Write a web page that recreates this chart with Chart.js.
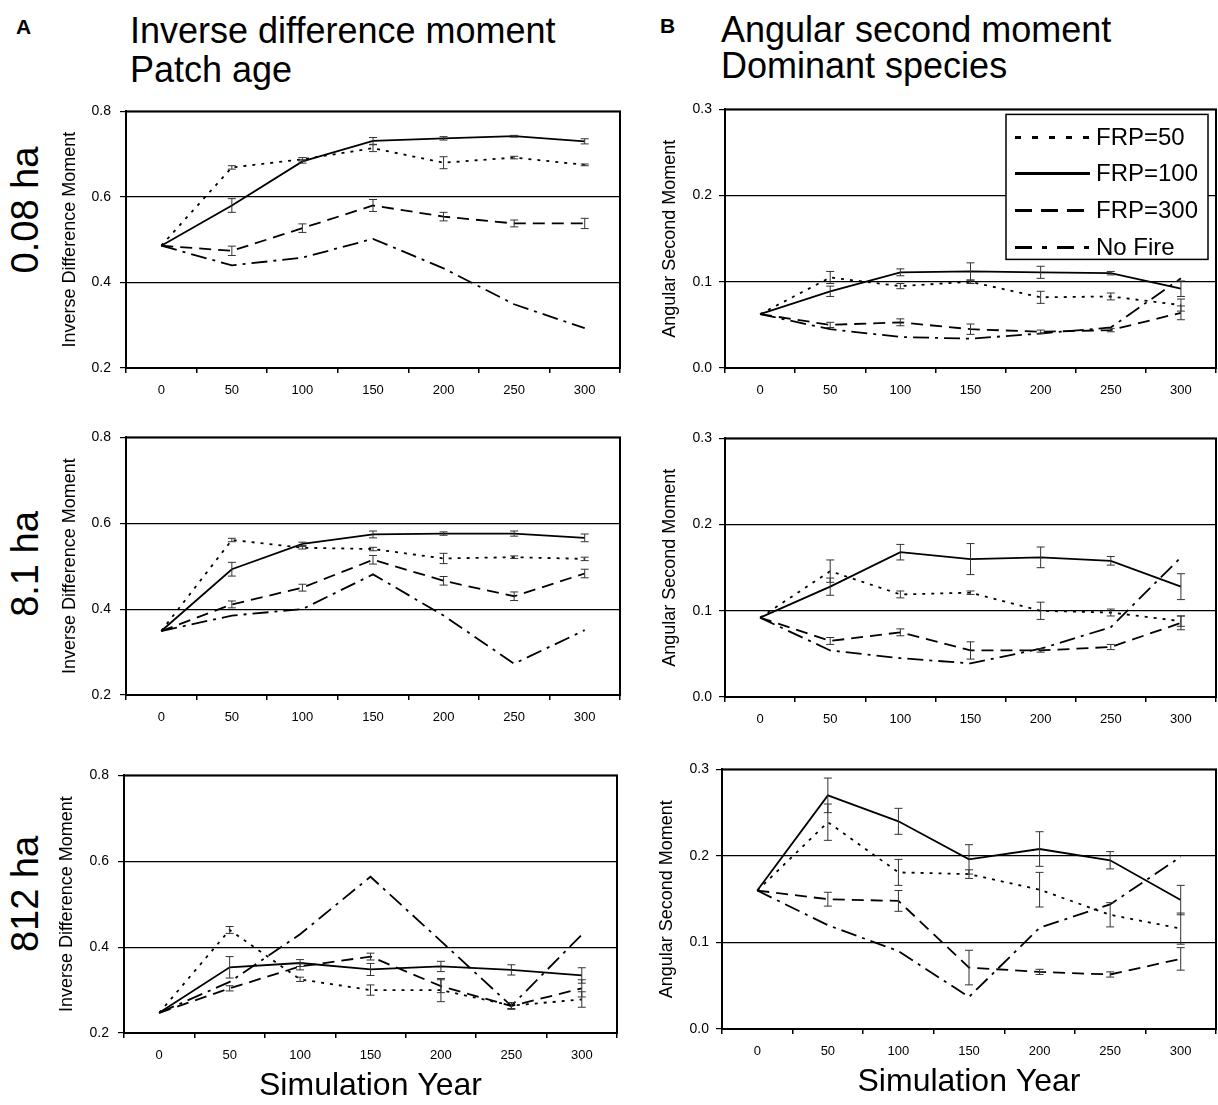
<!DOCTYPE html>
<html>
<head>
<meta charset="utf-8">
<script src="https://cdn.jsdelivr.net/npm/chart.js@4.4.0/dist/chart.umd.min.js"></script>
<style>
  body { margin: 0; width: 1218px; height: 1105px; background: #fff; position: relative; overflow: hidden;
         font-family: "Liberation Sans", Arial, sans-serif; color: #000; }
  .txt { position: absolute; white-space: nowrap; line-height: 1; }
  .row { position: absolute; white-space: nowrap; line-height: 1; font-size: 38px;
         transform: translate(-50%, -50%) rotate(-90deg); }
  canvas { position: absolute; }
</style>
</head>
<body>
<div class="txt" style="left:16px;top:16px;font-size:21px;font-weight:bold">A</div>
<div class="txt" style="left:130px;top:13px;font-size:36px">Inverse difference moment</div>
<div class="txt" style="left:130px;top:52px;font-size:36px">Patch age</div>
<div class="txt" style="left:660px;top:15px;font-size:21px;font-weight:bold">B</div>
<div class="txt" style="left:721px;top:12px;font-size:36px">Angular second moment</div>
<div class="txt" style="left:721px;top:48px;font-size:36px">Dominant species</div>

<div class="row" style="left:25px;top:210px">0.08 ha</div>
<div class="row" style="left:25px;top:564px">8.1 ha</div>
<div class="row" style="left:25px;top:894px">812 ha</div>

<canvas id="idm008"></canvas>
<canvas id="asm008"></canvas>
<canvas id="idm81"></canvas>
<canvas id="asm81"></canvas>
<canvas id="idm812"></canvas>
<canvas id="asm812"></canvas>

<script>
Chart.defaults.font.family = "'Liberation Sans', Arial, sans-serif";
Chart.defaults.color = "#000";

// --- data ---
const years = ["0", "50", "100", "150", "200", "250", "300"];
const seriesNames = ["FRP=50", "FRP=100", "FRP=300", "No Fire"];
const idmTicks = [0.2, 0.4, 0.6, 0.8];
const asmTicks = [0.0, 0.1, 0.2, 0.3];

// Inverse difference moment, 0.08 ha
const idm008Frp50 = [0.486, 0.669, 0.688, 0.714, 0.680, 0.692, 0.675];
const idm008Frp100 = [0.486, 0.580, 0.683, 0.731, 0.737, 0.742, 0.730];
const idm008Frp300 = [0.486, 0.474, 0.527, 0.580, 0.554, 0.538, 0.538];
const idm008NoFire = [0.486, 0.440, 0.458, 0.502, 0.433, 0.349, 0.293];
const idm008Err50 = [0, 0.004, 0.004, 0.008, 0.014, 0.003, 0.002];
const idm008Err100 = [0, 0.016, 0.004, 0.008, 0.004, 0.002, 0.006];
const idm008Err300 = [0, 0.011, 0.010, 0.014, 0.010, 0.008, 0.012];

// Angular second moment, 0.08 ha
const asm008Frp50 = [0.0625, 0.105, 0.095, 0.100, 0.082, 0.083, 0.073];
const asm008Frp100 = [0.0625, 0.089, 0.111, 0.112, 0.111, 0.110, 0.092];
const asm008Frp300 = [0.0625, 0.050, 0.053, 0.045, 0.042, 0.044, 0.064];
const asm008NoFire = [0.0625, 0.045, 0.036, 0.034, 0.040, 0.047, 0.104];
const asm008Err50 = [0, 0.007, 0.003, 0.002, 0.007, 0.004, 0.007];
const asm008Err100 = [0, 0.006, 0.004, 0.010, 0.007, 0.002, 0.009];
const asm008Err300 = [0, 0.003, 0.004, 0.006, 0.002, 0.002, 0.008];

// Inverse difference moment, 8.1 ha
const idm81Frp50 = [0.349, 0.561, 0.543, 0.540, 0.518, 0.521, 0.517];
const idm81Frp100 = [0.349, 0.493, 0.552, 0.574, 0.576, 0.576, 0.566];
const idm81Frp300 = [0.349, 0.411, 0.450, 0.515, 0.466, 0.430, 0.483];
const idm81NoFire = [0.349, 0.385, 0.400, 0.481, 0.385, 0.273, 0.351];
const idm81Err50 = [0, 0.004, 0.003, 0.004, 0.012, 0.003, 0.004];
const idm81Err100 = [0, 0.016, 0.004, 0.008, 0.004, 0.006, 0.009];
const idm81Err300 = [0, 0.008, 0.008, 0.010, 0.010, 0.010, 0.010];

// Angular second moment, 8.1 ha
const asm81Frp50 = [0.092, 0.146, 0.119, 0.121, 0.100, 0.098, 0.088];
const asm81Frp100 = [0.092, 0.128, 0.168, 0.160, 0.162, 0.158, 0.128];
const asm81Frp300 = [0.092, 0.065, 0.075, 0.054, 0.054, 0.058, 0.086];
const asm81NoFire = [0.092, 0.054, 0.045, 0.039, 0.056, 0.081, 0.162];
const asm81Err50 = [0, 0.013, 0.004, 0.002, 0.010, 0.004, 0.006];
const asm81Err100 = [0, 0.010, 0.009, 0.018, 0.012, 0.005, 0.015];
const asm81Err300 = [0, 0.004, 0.004, 0.010, 0.002, 0.003, 0.008];

// Inverse difference moment, 812 ha
const idm812Frp50 = [0.247, 0.440, 0.325, 0.300, 0.300, 0.264, 0.278];
const idm812Frp100 = [0.247, 0.353, 0.363, 0.348, 0.355, 0.347, 0.334];
const idm812Frp300 = [0.247, 0.304, 0.355, 0.378, 0.309, 0.263, 0.304];
const idm812NoFire = [0.247, 0.319, 0.430, 0.564, 0.414, 0.263, 0.429];
const idm812Err50 = [0, 0.008, 0.005, 0.012, 0.027, 0.007, 0.018];
const idm812Err100 = [0, 0.025, 0.008, 0.014, 0.012, 0.012, 0.018];
const idm812Err300 = [0, 0.006, 0.008, 0.008, 0.015, 0.008, 0.020];

// Angular second moment, 812 ha
const asm812Frp50 = [0.160, 0.239, 0.181, 0.179, 0.161, 0.132, 0.116];
const asm812Frp100 = [0.160, 0.270, 0.240, 0.196, 0.208, 0.195, 0.149];
const asm812Frp300 = [0.160, 0.150, 0.148, 0.071, 0.066, 0.063, 0.081];
const asm812NoFire = [0.160, 0.120, 0.090, 0.037, 0.117, 0.144, 0.199];
const asm812Err50 = [0, 0.021, 0.015, 0.005, 0.020, 0.014, 0.018];
const asm812Err100 = [0, 0.020, 0.015, 0.017, 0.020, 0.010, 0.017];
const asm812Err300 = [0, 0.008, 0.012, 0.020, 0.003, 0.003, 0.013];

// --- styles ---
const lineDashes = [[3, 6], [], [12, 7], [16, 6, 3, 6]];
const legendDashes = [[6, 11], [], [17, 9], [17, 10, 5, 10]];
const Y_W = 80;      // largeur réservée à l'axe y
const PAD_TOP = 10;

// cadre autour de la zone de tracé
const plotBox = {
  id: "plotBox",
  beforeDatasetsDraw(chart) {
    const { ctx, chartArea: a } = chart;
    ctx.save();
    ctx.strokeStyle = "#000";
    ctx.lineWidth = 2;
    ctx.strokeRect(a.left, a.top, a.right - a.left, a.bottom - a.top);
    ctx.restore();
  },
};

// barres d'erreur verticales
const errorBars = {
  id: "errorBars",
  afterDatasetsDraw(chart) {
    const ctx = chart.ctx;
    const y = chart.scales.y;
    chart.data.datasets.forEach((ds, i) => {
      if (!ds.errors) return;
      chart.getDatasetMeta(i).data.forEach((pt, j) => {
        const e = ds.errors[j];
        if (!e) return;
        const top = y.getPixelForValue(ds.data[j] + e);
        const bot = y.getPixelForValue(ds.data[j] - e);
        ctx.save();
        ctx.strokeStyle = "#333";
        ctx.lineWidth = 1;
        ctx.setLineDash([]);
        ctx.beginPath();
        ctx.moveTo(pt.x, top); ctx.lineTo(pt.x, bot);
        ctx.moveTo(pt.x - 4, top); ctx.lineTo(pt.x + 4, top);
        ctx.moveTo(pt.x - 4, bot); ctx.lineTo(pt.x + 4, bot);
        ctx.stroke();
        ctx.restore();
      });
    });
  },
};

// légende encadrée dans le coin haut droit
const boxLegend = {
  id: "boxLegend",
  afterDraw(chart) {
    const { ctx, chartArea: a } = chart;
    const w = 202, h = 145;
    const x0 = a.right - 8 - w, y0 = a.top + 5;
    ctx.save();
    ctx.fillStyle = "#fff";
    ctx.fillRect(x0, y0, w, h);
    ctx.strokeStyle = "#000";
    ctx.lineWidth = 1.5;
    ctx.strokeRect(x0, y0, w, h);
    ctx.font = "24px 'Liberation Sans', Arial, sans-serif";
    ctx.textBaseline = "middle";
    ctx.fillStyle = "#000";
    const rows = [23, 59, 96, 133];
    chart.data.datasets.forEach((ds, i) => {
      const yy = y0 + rows[i];
      ctx.lineWidth = 3;
      ctx.setLineDash(legendDashes[i]);
      ctx.beginPath();
      ctx.moveTo(x0 + 9, yy);
      ctx.lineTo(x0 + 84, yy);
      ctx.stroke();
      ctx.setLineDash([]);
      ctx.fillText(ds.label, x0 + 90, yy + 1);
    });
    ctx.restore();
  },
};

function makePanel(id, area, yTicks, yTitle, values, errors, opts) {
  const canvas = document.getElementById(id);
  const left = area.left - Y_W;
  const top = area.top - PAD_TOP;
  const xh = opts.bottomRow ? 72 : 40;
  canvas.width = area.right - left + 2;
  canvas.height = PAD_TOP + (area.bottom - area.top) + xh;
  canvas.style.left = left + "px";
  canvas.style.top = top + "px";

  const datasets = values.map((v, i) => ({
    label: seriesNames[i],
    data: v,
    errors: errors[i],
    borderColor: "#000",
    borderWidth: 1.8,
    borderDash: lineDashes[i],
    pointRadius: 0,
    fill: false,
    tension: 0,
  }));

  const plugins = [plotBox, errorBars];
  if (opts.legend) plugins.push(boxLegend);

  new Chart(canvas, {
    type: "line",
    data: { labels: years, datasets: datasets },
    plugins: plugins,
    options: {
      responsive: false,
      animation: false,
      layout: { padding: { top: PAD_TOP, right: 2, left: 0, bottom: 0 } },
      plugins: { legend: { display: false }, tooltip: { enabled: false } },
      scales: {
        x: {
          offset: true,
          grid: { offset: true, drawOnChartArea: false, drawTicks: true, tickLength: 5, color: "#000", lineWidth: 1.5 },
          border: { display: true, color: "#000", width: 2 },
          ticks: { font: { size: 13 }, padding: 10, maxRotation: 0, autoSkip: false },
          title: { display: !!opts.bottomRow, text: "Simulation Year", font: { size: 32 }, padding: { top: 0, bottom: 0 } },
          afterFit: (s) => { s.height = xh; },
        },
        y: {
          min: yTicks[0],
          max: yTicks[yTicks.length - 1],
          afterBuildTicks: (s) => { s.ticks = yTicks.map((v) => ({ value: v })); },
          grid: { color: "#000", lineWidth: 1.2, tickLength: 6 },
          border: { display: true, color: "#000", width: 2 },
          ticks: { font: { size: 14 }, padding: opts.tickPad, callback: (v) => Number(v).toFixed(1) },
          title: { display: true, text: yTitle, font: { size: 18 }, padding: { top: opts.titlePad, bottom: 0 } },
          afterFit: (s) => { s.width = Y_W; },
        },
      },
    },
  });
}

const IDM = "Inverse Difference Moment";
const ASM = "Angular Second Moment";

makePanel("idm008", { left: 126, top: 104, right: 620, bottom: 368 }, idmTicks, IDM,
  [idm008Frp50, idm008Frp100, idm008Frp300, idm008NoFire],
  [idm008Err50, idm008Err100, idm008Err300, null],
  { tickPad: 9, titlePad: 13 });

makePanel("asm008", { left: 725, top: 104, right: 1216, bottom: 368 }, asmTicks, ASM,
  [asm008Frp50, asm008Frp100, asm008Frp300, asm008NoFire],
  [asm008Err50, asm008Err100, asm008Err300, null],
  { tickPad: 7, titlePad: 14, legend: true });

makePanel("idm81", { left: 126, top: 430, right: 620, bottom: 695 }, idmTicks, IDM,
  [idm81Frp50, idm81Frp100, idm81Frp300, idm81NoFire],
  [idm81Err50, idm81Err100, idm81Err300, null],
  { tickPad: 9, titlePad: 13 });

makePanel("asm81", { left: 725, top: 433, right: 1216, bottom: 697 }, asmTicks, ASM,
  [asm81Frp50, asm81Frp100, asm81Frp300, asm81NoFire],
  [asm81Err50, asm81Err100, asm81Err300, null],
  { tickPad: 7, titlePad: 14 });

makePanel("idm812", { left: 124, top: 768, right: 617, bottom: 1033 }, idmTicks, IDM,
  [idm812Frp50, idm812Frp100, idm812Frp300, idm812NoFire],
  [idm812Err50, idm812Err100, idm812Err300, null],
  { tickPad: 9, titlePad: 12, bottomRow: true });

makePanel("asm812", { left: 722, top: 764, right: 1216, bottom: 1029 }, asmTicks, ASM,
  [asm812Frp50, asm812Frp100, asm812Frp300, asm812NoFire],
  [asm812Err50, asm812Err100, asm812Err300, null],
  { tickPad: 7, titlePad: 14, bottomRow: true });
</script>
</body>
</html>
